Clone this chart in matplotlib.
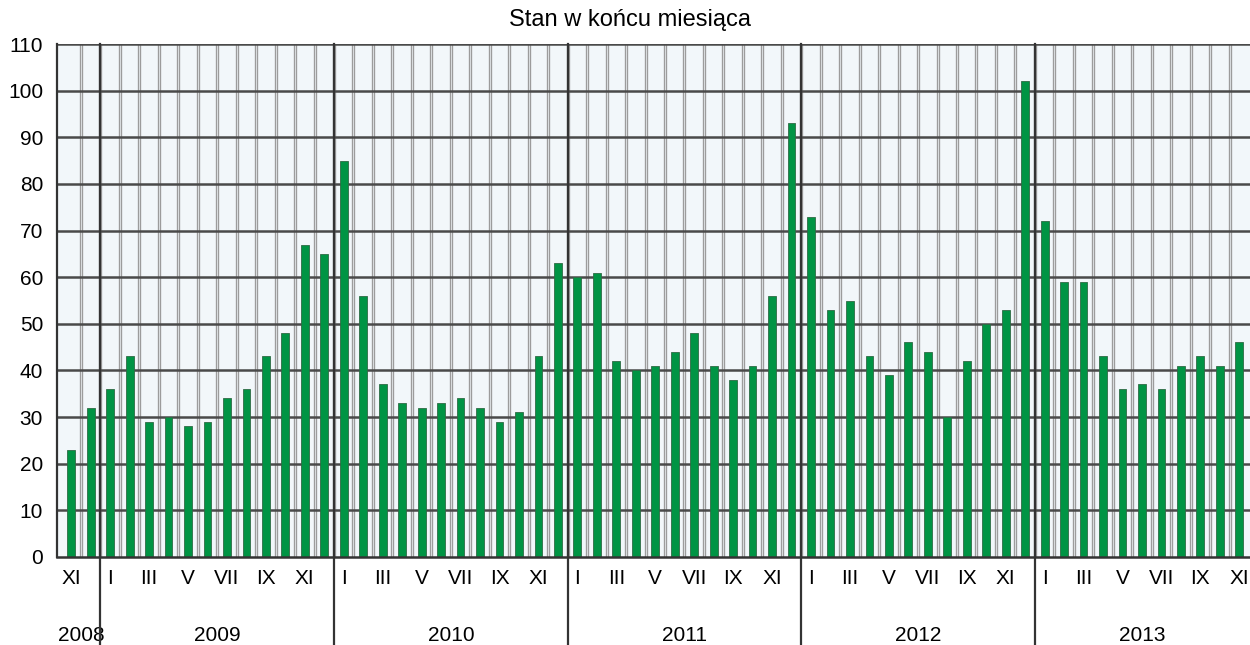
import numpy as np
import matplotlib.pyplot as plt
import matplotlib.transforms as mtransforms

# monthly values, XI 2008 .. XI 2013
values = [23, 32,
          36, 43, 29, 30, 28, 29, 34, 36, 43, 48, 67, 65,
          85, 56, 37, 33, 32, 33, 34, 32, 29, 31, 43, 63,
          60, 61, 42, 40, 41, 44, 48, 41, 38, 41, 56, 93,
          73, 53, 55, 43, 39, 46, 44, 30, 42, 50, 53, 102,
          72, 59, 59, 43, 36, 37, 36, 41, 43, 41, 46]
years = ['2008', '2009', '2010', '2011', '2012', '2013']
months_per_year = [2, 12, 12, 12, 12, 11]
first_month = [11, 1, 1, 1, 1, 1]
roman = ['I', 'II', 'III', 'IV', 'V', 'VI', 'VII', 'VIII', 'IX', 'X', 'XI', 'XII']

plt.rcParams['font.family'] = ['Liberation Sans', 'DejaVu Sans']

fig = plt.figure(figsize=(12.5, 6.45), dpi=100)
ax = fig.add_axes([57/1250, 1-557/645, 1-57/1250, 513/645])
ax.set_facecolor('#F2F7FA')

n = len(values)
x = np.arange(n) + 0.5
ax.set_xlim(-0.23, n + 0.05)
ax.set_ylim(0, 110)

# grid
for k in range(1, n):
    ax.axvline(k, color='#9C9C9C', lw=2.4, zorder=1)
    ax.axvline(k, color='#E4E8EA', lw=0.6, zorder=1)
for v in range(10, 111, 10):
    ax.axhline(v, color='#4A4A4A', lw=1.8, zorder=1.5)

ax.bar(x, values, width=0.4, color='#009444', edgecolor='#2F6B45', lw=0.6, zorder=3)

# year boundaries, extended below the axes
trans = mtransforms.blended_transform_factory(ax.transData, ax.transAxes)
start = 0
ticks, labels = [], []
for yr, cnt, fm in zip(years, months_per_year, first_month):
    for j in range(cnt):
        m = fm + j
        if m % 2 == 1:
            ticks.append(start + j + 0.5)
            labels.append(roman[m - 1])
    ax.text(start + cnt / 2, -0.153, yr, transform=trans, ha='center', va='center', fontsize=15)
    if start > 0:
        ax.plot([start, start], [-0.175, 1], transform=trans, color='#333333', lw=1.6,
                clip_on=False, zorder=4)
    start += cnt

ax.set_xticks(ticks)
ax.set_xticklabels(labels, fontsize=15)
ax.set_yticks(range(0, 111, 10))
ax.set_yticklabels([str(v) for v in range(0, 111, 10)], fontsize=15)
ax.tick_params(axis='y', length=0, pad=10)
ax.tick_params(axis='x', length=0, pad=9)

for s in ['top', 'right']:
    ax.spines[s].set_visible(False)
ax.spines['left'].set_color('#333333')
ax.spines['left'].set_linewidth(1.6)
ax.spines['bottom'].set_color('#333333')
ax.spines['bottom'].set_linewidth(1.8)
ax.spines['left'].set_zorder(5)
ax.spines['bottom'].set_zorder(5)

fig.text(630/1250, 1-20/645, 'Stan w końcu miesiąca', ha='center', va='center', fontsize=17)

fig.savefig('out.png', dpi=100)
